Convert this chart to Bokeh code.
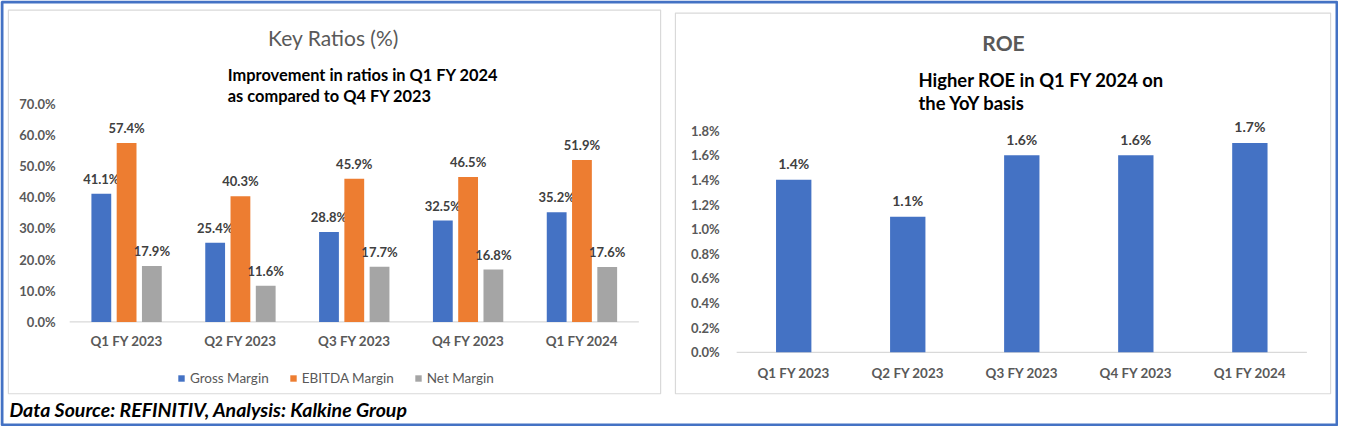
from bokeh.plotting import figure
from bokeh.models import (ColumnDataSource, Range1d, Legend, LegendItem, Label)
from bokeh.transform import dodge
from bokeh.core.properties import value
from bokeh.embed import file_html
from bokeh.resources import INLINE

# ---------------- data ----------------
quarters = ["Q1 FY 2023", "Q2 FY 2023", "Q3 FY 2023", "Q4 FY 2023", "Q1 FY 2024"]
gross_margin = [41.1, 25.4, 28.8, 32.5, 35.2]
ebitda_margin = [57.4, 40.3, 45.9, 46.5, 51.9]
net_margin = [17.9, 11.6, 17.7, 16.8, 17.6]
roe = [1.4, 1.1, 1.6, 1.6, 1.7]
ratio_ticks = [0, 10, 20, 30, 40, 50, 60, 70]
roe_ticks = [0, 0.2, 0.4, 0.6, 0.8, 1.0, 1.2, 1.4, 1.6, 1.8]
series_names = ["Gross Margin", "EBITDA Margin", "Net Margin"]

# ---------------- style ----------------
FONT = "Lato"
GREY = "#595959"
LBL = "#404040"
AXIS = "#D9D9D9"
BLUE, ORANGE, SILVER = "#4472C4", "#ED7D31", "#A5A5A5"

W, H = 1338, 426
SX, SY = W / 1354, H / 442


def cx(rx):
    return rx * SX


def cy(ry):
    return H - ry * SY


def chart_ranges(left_px, right_px, n, zero_py, top_py, top_val):
    x0, x1 = cx(left_px), cx(right_px)
    unit = (x1 - x0) / n
    xr = Range1d(start=-x0 / unit, end=(W - x0) / unit)
    y0, yt = cy(zero_py), cy(top_py)
    upp = top_val / (yt - y0)
    yr = Range1d(start=-y0 * upp, end=(H - y0) * upp)
    return xr, yr


p = figure(width=W, height=H, x_range=Range1d(0, W), y_range=Range1d(0, H),
           x_axis_type=None, y_axis_type=None, min_border=0, title=None,
           output_backend="svg", toolbar_location=None)
p.grid.visible = False
p.outline_line_color = None
p.background_fill_color = "white"

lx, ly = chart_ranges(70, 646, len(quarters), 333.5, 107, ratio_ticks[-1])
rx, ry = chart_ranges(745, 1322, len(quarters), 365, 135, roe_ticks[-1])
p.extra_x_ranges = {"L": lx, "R": rx}
p.extra_y_ranges = {"L": ly, "R": ry}

# ---------------- frames / borders ----------------
p.quad(left=[cx(8)], right=[cx(668)], bottom=[cy(408)], top=[cy(10)],
       fill_color=None, line_color=AXIS, line_width=1.2)
p.quad(left=[cx(683)], right=[cx(1346)], bottom=[cy(408)], top=[cy(13)],
       fill_color=None, line_color=AXIS, line_width=1.2)
p.quad(left=[1.5], right=[W - 1.5], bottom=[1.5], top=[H - 1.5],
       fill_color=None, line_color=BLUE, line_width=3)

xi = [i + 0.5 for i in range(len(quarters))]
n_cat = [len(quarters)]


def axes(name, ticks, x_off, lab_off, tick_fmt):
    tsrc = ColumnDataSource(dict(x=[0] * len(ticks), y=ticks, t=[tick_fmt(t) for t in ticks]))
    p.text(x="x", y="y", text="t", source=tsrc, x_range_name=name, y_range_name=name,
           text_align="right", text_baseline="middle", x_offset=x_off,
           text_font=value(FONT), text_font_style="bold", text_font_size="13px",
           text_color=GREY)
    csrc = ColumnDataSource(dict(x=xi, y=[0] * len(quarters), t=quarters))
    p.text(x="x", y="y", text="t", source=csrc, x_range_name=name, y_range_name=name,
           text_align="center", text_baseline="middle", y_offset=lab_off,
           text_font=value(FONT), text_font_style="bold", text_font_size="13.4px",
           text_color=GREY)
    p.segment(x0=[0], x1=n_cat, y0=[0], y1=[0], x_range_name=name, y_range_name=name,
              line_color=AXIS, line_width=1.3)


# ---------------- left chart: Key Ratios ----------------
axes("L", ratio_ticks, -14, 19.5, lambda t: f"{t:.1f}%")
src = ColumnDataSource(dict(
    x=xi, g=gross_margin, e=ebitda_margin, n=net_margin,
    gl=[f"{v:.1f}%" for v in gross_margin],
    el=[f"{v:.1f}%" for v in ebitda_margin],
    nl=[f"{v:.1f}%" for v in net_margin],
))
bw, off = 0.174, 0.222
renderers = []
for col, lab, dx, colr in (("g", "gl", -off, BLUE), ("e", "el", 0, ORANGE), ("n", "nl", off, SILVER)):
    r = p.vbar(x=dodge("x", dx), top=col, width=bw, source=src, x_range_name="L",
               y_range_name="L", fill_color=colr, line_color=None)
    renderers.append(r)
    p.text(x=dodge("x", dx), y=col, text=lab, source=src, x_range_name="L", y_range_name="L",
           text_align="center", text_baseline="middle", y_offset=-15,
           text_font=value(FONT), text_font_style="bold", text_font_size="13px",
           text_color=LBL)

legend = Legend(items=[LegendItem(label=nm, renderers=[r]) for nm, r in zip(series_names, renderers)],
                orientation="horizontal", location=(cx(179), cy(384) - 18),
                label_text_font=FONT, label_text_font_size="13.5px", label_text_color=GREY,
                glyph_width=8, glyph_height=8, spacing=20, label_standoff=5,
                label_height=20, border_line_color=None, background_fill_alpha=0,
                padding=0, margin=0)
p.add_layout(legend)

p.add_layout(Label(x=cx(337), y=cy(38), text="Key Ratios (%)", text_align="center",
                   text_baseline="middle", text_font=FONT, text_font_size="21px",
                   text_color=GREY))
p.add_layout(Label(x=cx(230), y=cy(77), text="Improvement in ratios in Q1 FY 2024",
                   text_baseline="middle", text_font=FONT, text_font_size="16.4px",
                   text_font_style="bold", text_color="black"))
p.add_layout(Label(x=cx(230), y=cy(99), text="as compared to Q4 FY 2023",
                   text_baseline="middle", text_font=FONT, text_font_size="16.4px",
                   text_font_style="bold", text_color="black"))

# ---------------- right chart: ROE ----------------
axes("R", roe_ticks, -17, 20.5, lambda t: f"{t:.1f}%")
src2 = ColumnDataSource(dict(x=xi, r=roe, rl=[f"{v:.1f}%" for v in roe]))
p.vbar(x="x", top="r", width=0.31, source=src2, x_range_name="R", y_range_name="R",
       fill_color=BLUE, line_color=None)
p.text(x="x", y="r", text="rl", source=src2, x_range_name="R", y_range_name="R",
       text_align="center", text_baseline="middle", y_offset=-16,
       text_font=value(FONT), text_font_style="bold", text_font_size="14px", text_color=LBL)

p.add_layout(Label(x=cx(1015), y=cy(44), text="ROE", text_align="center",
                   text_baseline="middle", text_font=FONT, text_font_size="21px",
                   text_font_style="bold", text_color=GREY))
p.add_layout(Label(x=cx(929), y=cy(82), text="Higher ROE in Q1 FY 2024 on",
                   text_baseline="middle", text_font=FONT, text_font_size="18.4px",
                   text_font_style="bold", text_color="black"))
p.add_layout(Label(x=cx(929), y=cy(106), text="the YoY basis",
                   text_baseline="middle", text_font=FONT, text_font_size="18.4px",
                   text_font_style="bold", text_color="black"))

# ---------------- footer ----------------
p.add_layout(Label(x=cx(9), y=cy(424), text="Data Source: REFINITIV, Analysis: Kalkine Group",
                   text_baseline="middle", text_font=FONT, text_font_size="19.5px",
                   text_font_style="bold italic", text_color="black"))

open("out.html", "w").write(file_html(p, INLINE))
